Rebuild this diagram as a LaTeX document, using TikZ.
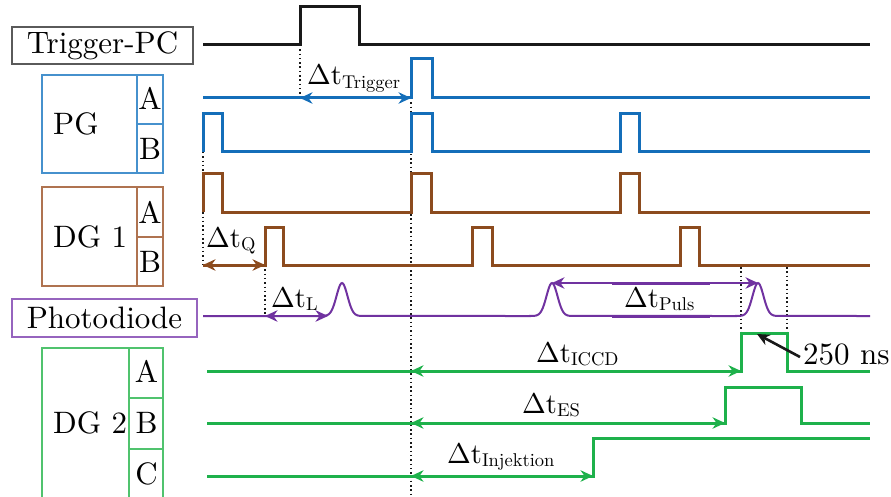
\documentclass[tikz,border=0pt]{standalone}
\usepackage{fontspec}
\setmainfont{lmroman10-regular.otf}
\newfontfamily\dfont{latinmodern-math.otf}
\usetikzlibrary{arrows.meta}
\definecolor{cblk}{RGB}{25,25,25}
\definecolor{cgray}{RGB}{90,90,90}
\definecolor{cblue}{RGB}{20,110,185}
\definecolor{cblueb}{RGB}{70,145,205}
\definecolor{cbrown}{RGB}{140,75,30}
\definecolor{cbrownb}{RGB}{175,115,80}
\definecolor{cpurp}{RGB}{112,50,160}
\definecolor{cpurpb}{RGB}{150,100,190}
\definecolor{cgreen}{RGB}{30,177,75}
\definecolor{cgreenb}{RGB}{80,195,110}
\newcommand\dtsub[1]{{\dfont Δ}t\raisebox{-3.5pt}{\fontsize{18.5}{20}\selectfont #1}}
\tikzset{
  sig/.style={line width=3pt, line join=miter},
  pdl/.style={line width=2pt, cpurp},
  arr/.style={line width=2.6pt, {Stealth[length=12.5pt,width=11.5pt]}-{Stealth[length=12.5pt,width=11.5pt]}},
  dotl/.style={line width=1.5pt, cblk, dash pattern=on 1.5pt off 2.8pt},
  boxlbl/.style={font=\fontsize{31}{34}\selectfont, inner sep=3pt},
  dtl/.style={anchor=base west, inner sep=0pt, font=\fontsize{28.5}{30}\selectfont},
  frame/.style={line width=1.2pt}
}
\begin{document}
\begin{tikzpicture}[x=1pt,y=-1pt]
\useasboundingbox (0,0) rectangle (891,497);
% ---------- boxes ----------
\node[draw=cgray, frame, boxlbl, minimum width=181pt, minimum height=37pt] (tpc) at (102.5,45.5) {Trigger-PC};
\node[draw=cpurpb, frame, boxlbl, minimum width=185pt, minimum height=38pt] (pd) at (104.5,318) {Photodiode};
% PG
\draw[cblueb, frame] (42,75) rectangle (163,173) (137,75) -- (137,173) (137,124) -- (163,124);
\node[boxlbl, anchor=west] (pg) at (50,124) {PG};
\node[boxlbl] (pga) at (150,98) {A};
\node[boxlbl] (pgb) at (150,149) {B};
% DG1
\draw[cbrownb, frame] (42,187) rectangle (163,286) (137,187) -- (137,286) (137,237) -- (163,237);
\node[boxlbl, anchor=west] (dga) at (50,237) {DG 1};
\node[boxlbl] (dgaa) at (150,212) {A};
\node[boxlbl] (dgab) at (150,262) {B};
% DG2
\draw[cgreenb, frame] (42,520) -- (42,348) -- (163,348) -- (163,520) (129,348) -- (129,520) (129,398) -- (163,398) (129,449) -- (163,449);
\node[boxlbl, anchor=west] (dgb) at (50,423) {DG 2};
\node[boxlbl] (dgba) at (146.5,371) {A};
\node[boxlbl] (dgbb) at (146.5,423) {B};
\node[boxlbl] (dgbc) at (146.5,474) {C};
% ---------- coordinates ----------
\coordinate (trU) at (300,45);
\coordinate (trA) at (300,98);
\coordinate (pgA) at (411,98);
\coordinate (bot) at (411,497);
\coordinate (q0t) at (203,152);
\coordinate (q0) at (203,265);
\coordinate (q1) at (265,265);
\coordinate (l0) at (265,316);
\coordinate (l1) at (328,316);
\coordinate (p0) at (552,283);
\coordinate (p1) at (758,283);
\coordinate (wa) at (741,267);
\coordinate (wb) at (787,267);
\coordinate (wat) at (741,333);
\coordinate (wbt) at (787,333);
\coordinate (ic0) at (411,371);
\coordinate (ic1) at (741,371);
\coordinate (es0) at (411,423);
\coordinate (es1) at (725,423);
\coordinate (in0) at (411,476);
\coordinate (in1) at (593,476);
\coordinate (nsT) at (800,357);
\coordinate (nsH) at (757,334);
% ---------- dotted guides ----------
\draw[dotl] (trU) -- (trA);
\draw[dotl] (pgA) -- (bot);
\draw[dotl] (q0t) -- (q0);
\draw[dotl] (q1) -- (l0);
\draw[dotl] (wa) -- (wat);
\draw[dotl] (wb) -- (wbt);
% ---------- signals ----------
\draw[sig, cblk] (203,45) -- (300,45) -- (300,7) -- (359,7) -- (359,45) -- (870,45);
\draw[sig, cblue] (203,98) -- (411,98) -- (411,59) -- (432,59) -- (432,98) -- (870,98);
\draw[sig, cblue] (203,152) -- (203,114) -- (222,114) -- (222,152) -- (411,152) -- (411,114) -- (432,114) -- (432,152) -- (620,152) -- (620,114) -- (639,114) -- (639,152) -- (870,152);
\draw[sig, cbrown] (203,212) -- (203,174) -- (222,174) -- (222,212) -- (411,212) -- (411,174) -- (431,174) -- (431,212) -- (620,212) -- (620,174) -- (639,174) -- (639,212) -- (870,212);
\draw[sig, cbrown] (203,265) -- (265,265) -- (265,227) -- (283,227) -- (283,265) -- (472,265) -- (472,227) -- (492,227) -- (492,265) -- (680,265) -- (680,227) -- (699,227) -- (699,265) -- (870,265);
\draw[pdl] (203,316) -- (320,316) -- plot[smooth, domain=-22:22, samples=45] ({342+\x},{316-33*exp(-\x*\x/60)}) -- (530,316) -- plot[smooth, domain=-22:22, samples=45] ({552+\x},{316-33*exp(-\x*\x/60)}) -- (736,316) -- plot[smooth, domain=-22:22, samples=45] ({758+\x},{316-33*exp(-\x*\x/60)}) -- (870,316);
\draw[sig, cgreen] (207,371) -- (741,371) -- (741,333) -- (787,333) -- (787,371) -- (870,371);
\draw[sig, cgreen] (207,423) -- (725,423) -- (725,387) -- (801,387) -- (801,423) -- (870,423);
\draw[sig, cgreen] (207,476) -- (593,476) -- (593,438) -- (870,438);
% ---------- arrows ----------
\draw[arr, cblue] (trA) -- (pgA);
\draw[arr, cbrown] (q0) -- (q1);
\draw[arr, cpurp] (l0) -- (l1);
\draw[arr, cpurp, line width=1.6pt] (p0) -- (p1);
\draw[cpurp, line width=3pt] (612,283) -- (710,283) (612,316) -- (710,316);
\draw[arr, cgreen] (ic0) -- (ic1);
\draw[arr, cgreen] (es0) -- (es1);
\draw[arr, cgreen] (in0) -- (in1);
\draw[line width=2.6pt, cblk, -{Stealth[length=12.5pt,width=11.5pt]}] (nsT) -- (nsH);
% ---------- labels ----------
\node[dtl] (lt) at (307,85) {\dtsub{Trigger}};
\node[dtl] (lq) at (206,247) {\dtsub{Q}};
\node[dtl] (ll) at (271,307) {\dtsub{L}};
\node[dtl] (lp) at (624,307) {\dtsub{Puls}};
\node[dtl] (li) at (536,362) {\dtsub{ICCD}};
\node[dtl] (le) at (522,413) {\dtsub{ES}};
\node[dtl] (lj) at (447,463) {\dtsub{Injektion}};
\node[anchor=base west, inner sep=0pt, font=\fontsize{31}{34}\selectfont] (ns) at (803,364) {250 ns};
\end{tikzpicture}
\end{document}
